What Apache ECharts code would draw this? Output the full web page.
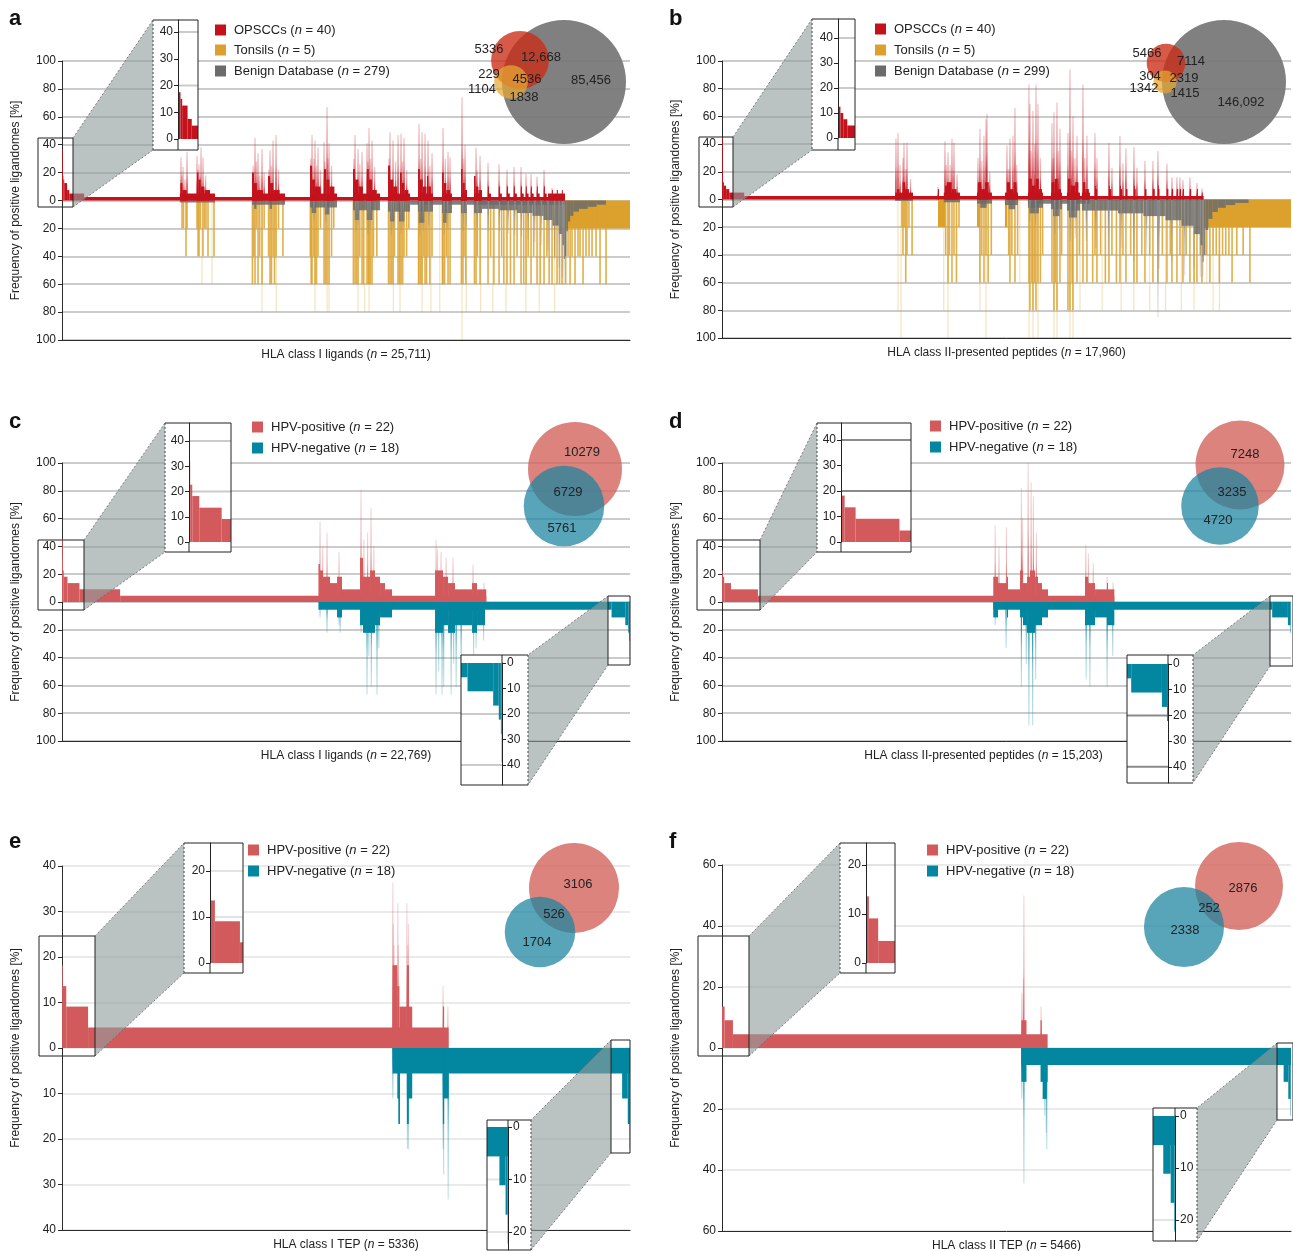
<!DOCTYPE html>
<html><head><meta charset="utf-8">
<script src="https://cdn.jsdelivr.net/npm/echarts@6/dist/echarts.min.js"></script>
<style>html,body{margin:0;padding:0;background:#fff}#c{width:1293px;height:1251px}</style>
</head><body><div id="c"></div><script>
// ================= DATA =================
// peptide counts (x axis = peptide rank)
const aN = 25711, bN = 17960, cN = 22769, dN = 15203, eN = 5336, fN = 5466;

// ---- panel a : HLA class I, OPSCC vs tonsils vs benign ----
// steps: [fromRank, toRank, frequency %]; spikes/lines: [rank, frequency %]
const aOpsccSteps = [[0,5,37],[5,20,25],[20,60,17.5],[60,100,15],[100,230,12.5],[230,330,7.5],[330,1000,5],[1000,22769,2.5],
 [5336,6926,5],[5360,5450,12.5],[5450,5650,7.5],[6111,6180,20],[6180,6280,15],[6280,6450,10],[6450,6700,7.5],
 [8601,10095,5],[8601,8690,20],[8690,8820,12.5],[8820,9100,7.5],[9326,9420,17.5],[9420,9560,12.5],[9560,9850,7.5],
 [11227,12449,5],[11227,11320,25],[11320,11450,15],[11450,11700,10],[11860,11960,22.5],[11960,12100,15],[12100,12330,10],
 [13173,14396,5],[13173,13260,22.5],[13260,13420,15],[13420,13620,10],[13800,13890,22.5],[13890,14030,15],[14030,14250,7.5],
 [14758,15754,5],[14758,14850,25],[14850,14990,15],[14990,15180,10],[15300,15380,20],[15380,15500,12.5],[15500,15680,7.5],
 [16116,16795,5],[16116,16200,22.5],[16200,16330,15],[16330,16500,10],[16520,16580,17.5],[16580,16700,10],
 [17203,17655,5],[17203,17280,20],[17280,17400,12.5],[17400,17560,7.5],
 [18063,18334,5],[18063,18130,22.5],[18130,18230,12.5],[18230,18334,7.5],
 [18651,19013,5],[18651,18720,17.5],[18720,18850,10],[18850,19013,7.5],
 [19285,19420,5],[19285,19330,10],[19783,19910,5],[19783,19830,10],[20145,20270,5],[20145,20190,10],[20462,20590,5],[20462,20500,10],
 [20779,20900,5],[20779,20820,10],[21005,21120,5],[21005,21040,10],[21231,21350,5],[21231,21270,10],[21503,21620,5],[21503,21540,10],
 [21820,21940,5],[21820,21860,10],[22000,22769,5],[22182,22220,7.5],[22409,22440,7.5],[22635,22660,7.5]];
const aOpsccSpikes = [[5387,31],[5430,18],[5478,24],[5560,15],[5659,35],[6111,32],[6150,22],[6200,26],[6250,17],[6293,38],[6383,31],[6500,18],
 [8650,25],[8737,45],[8800,28],[8873,34],[8950,18],[9054,37],[9150,20],[9360,22],[9416,36],[9480,25],[9552,43],[9688,47],[9800,22],
 [11260,30],[11318,47],[11400,30],[11453,43],[11520,25],[11589,38],[11700,22],[11900,28],[11861,42],[11997,67],[12040,30],[12087,41],[12200,25],
 [13210,30],[13264,47],[13400,37],[13480,26],[13581,35],[13840,28],[13807,41],[13898,52],[13960,30],[14034,43],[14150,24],
 [14800,30],[14848,49],[14984,43],[15100,28],[15211,47],[15347,48],[15420,28],[15482,45],[15600,22],
 [16161,55],[16230,30],[16297,49],[16433,48],[16569,43],[16650,25],[16750,34],[17248,52],[17350,30],[17474,35],[17565,31],
 [18108,74],[18180,30],[18244,40],[18742,38],[18800,22],[18923,32],
 [19285,27],[19783,26],[20145,22],[20462,24],[20779,24],[21005,19],[21231,19],[21503,17],[21820,22],[22182,9],[22409,8],[22635,7]];
const aBenignSteps = [[5336,6926,1.5],[8601,10095,3],[8700,8800,6],[9400,9500,6],
 [11227,12449,5],[11300,11500,9],[11900,12100,10],[13173,14396,7],[13250,13450,14],[13800,14050,14],
 [14758,15754,8],[14850,15050,15],[15250,15500,15],[15754,22769,3],[16116,16795,8],[16150,16400,16],
 [17203,17655,9],[17250,17400,16],[18063,18334,9],[18651,19013,9],
 [19013,19800,6],[19800,20600,7],[20600,21300,9],[21300,21800,11],[21800,22200,14],[22200,22500,18],[22500,22650,24],[22650,22730,32],[22730,22769,42],
 [22769,22830,40],[22830,22900,22],[22900,23000,15],[23000,23150,11],[23150,23400,8],[23400,23800,6],[23800,24200,4.5],[24200,24620,3]];
const aBenignSpikes = [[11400,14],[11950,16],[13300,22],[13400,18],[13850,24],[13950,20],[14900,25],[15000,20],[15350,24],[15450,18],
 [16200,25],[16350,22],[16600,18],[17300,24],[17450,20],[18150,22],[18300,20],[18800,20],[19300,22],[19800,22],[20200,24],[20500,25],
 [20800,26],[21100,28],[21400,30],[21700,32],[22000,36],[22300,42],[22500,48],[22650,55],[22720,60]];
const aTonsilBlocks = [[22769,25711,20]];
const aTonsilLines = [[5432,20],[5500,20],[5613,40],[5659,20],[6111,20],[6160,40],[6202,40],[6260,20],[6383,40],[6450,20],[6519,20],[6609,40],[6881,40],
 [8620,60],[8680,40],[8737,60],[8800,20],[8873,60],[8950,40],[9054,60],[9150,20],[9350,40],[9416,60],[9480,60],[9552,40],[9620,60],[9688,40],[9800,20],[10000,40],
 [11240,40],[11280,60],[11318,60],[11400,40],[11453,60],[11520,60],[11589,40],[11700,20],[11861,60],[11930,60],[11997,60],[12087,60],[12200,40],[12300,20],
 [13190,60],[13264,60],[13330,60],[13400,60],[13480,40],[13581,60],[13650,60],[13807,60],[13870,60],[13898,60],[13960,60],[14034,60],[14100,40],[14250,40],
 [14780,60],[14848,60],[14920,60],[14984,60],[15050,40],[15211,60],[15280,60],[15347,60],[15420,60],[15482,40],[15600,40],[15700,20],
 [16140,60],[16161,60],[16240,60],[16297,60],[16380,40],[16433,60],[16500,60],[16569,40],[16650,60],[16750,40],
 [17220,60],[17248,60],[17320,60],[17400,40],[17474,60],[17565,60],[18080,60],[18150,60],[18200,40],[18280,60],[18670,60],[18742,60],[18800,40],[18923,60],
 [19285,60],[19400,40],[19550,60],[19783,60],[19900,40],[20000,60],[20145,60],[20300,60],[20462,60],[20600,40],[20779,60],[20900,60],[21005,60],[21100,40],
 [21231,60],[21350,40],[21503,60],[21650,60],[21820,60],[21950,40],[22050,60],[22182,60],[22300,40],[22409,60],[22520,60],[22635,60],
 [22800,60],[22906,40],[23000,60],[23087,40],[23223,60],[23359,40],[23449,40],[23585,60],[23721,40],[23857,40],[23993,40],[24174,40],[24355,60],[24627,60]];
const aTonsilFaint = [[6338,60],[6790,60],[9054,80],[9700,80],[11453,80],[12000,80],[12087,80],[13400,80],[13700,80],[13898,80],[15000,80],[15300,80],
 [16300,80],[16700,80],[17100,80],[18108,100],[18300,80],[18950,80],[19500,80],[20100,80],[21000,80],[21600,80],[22300,80]];
// Venn a: OPSCC-only, OPSCC∩Benign, OPSCC∩Tonsil, all three, Benign-only, Tonsil-only, Tonsil∩Benign
const aVenn = [5336, 12668, 229, 4536, 85456, 1104, 1838];

// ---- panel b : HLA class II ----
const bOpsccSteps = [[0,3,45],[3,20,17.5],[20,60,12.5],[60,130,10],[130,230,7.5],[230,700,5],[700,15203,2.5],
 [5466,6028,5],[5520,5600,7.5],[5700,5780,12.5],[5780,5900,7.5],[6817,6850,7.5],[7000,7511,5],[7040,7100,10],[7100,7250,12.5],[7250,7400,7.5],
 [8048,8521,5],[8080,8180,12.5],[8180,8300,7.5],[8300,8420,12.5],[8931,9342,5],[8995,9090,12.5],[9090,9200,7.5],[9200,9290,12.5],
 [9657,10131,5],[9680,9780,15],[9780,9900,10],[9900,10000,15],[10000,10100,7.5],[10383,10730,5],[10400,10500,12.5],[10500,10600,15],[10600,10700,7.5],
 [10888,11298,5],[10920,11000,15],[11000,11150,10],[11150,11250,12.5],[11360,11614,5],[11393,11470,12.5],[11470,11580,7.5],
 [11772,11840,7.5],[11772,11800,10],[12214,12280,7.5],[12214,12240,10],[12561,12630,7.5],[12561,12590,10],[12750,12800,7.5],[13003,13060,7.5],[13003,13030,10],
 [13350,13400,7.5],[13602,13660,7.5],[13760,13810,7.5],[13760,13785,10],[14044,14090,7.5],[14202,14240,7.5],[14360,14400,7.5],[14454,14490,7.5],
 [14549,14580,7.5],[14770,14810,7.5],[14991,15020,7.5],[15149,15170,5]];
const bOpsccSpikes = [[5491,44],[5555,48],[5620,25],[5712,30],[5744,41],[5800,22],[5839,41],[5950,15],[6817,9],[7038,42],[7080,25],[7133,34],[7200,25],[7259,44],[7322,41],[7420,18],
 [8080,30],[8142,51],[8200,28],[8269,46],[8332,58],[8363,62],[8450,20],[8995,39],[9040,22],[9089,44],[9184,46],[9247,66],[9300,25],
 [9689,83],[9720,69],[9760,35],[9815,64],[9870,40],[9910,83],[9973,69],[10050,30],[10415,55],[10450,30],[10478,63],[10573,70],[10620,35],[10667,51],
 [10920,48],[10983,94],[11030,35],[11078,60],[11140,30],[11204,46],[11393,83],[11450,30],[11519,46],
 [11772,48],[11835,30],[12214,41],[12308,23],[12561,46],[12656,26],[12750,37],[13003,38],[13097,23],[13350,28],[13602,28],[13760,35],
 [14044,26],[14202,16],[14360,16],[14454,16],[14549,14],[14770,16],[14991,12],[15149,8]];
const bBenignSteps = [[5466,6028,1],[7000,7511,2],[8048,8521,3],[8150,8350,6],[8931,9342,4],[9050,9250,7],[9657,11614,3],[9657,10131,6],[9700,10000,10],
 [10383,10730,7],[10450,10650,12],[10888,11298,8],[10950,11200,13],[11360,11614,8],[11614,12500,8],[12500,13300,10],[13300,14000,12],[14000,14500,15],
 [14500,14900,19],[14900,15100,25],[15100,15170,33],[15170,15203,45],
 [15203,15260,40],[15260,15350,22],[15350,15480,14],[15480,15650,9],[15650,15900,6],[15900,16200,4],[16200,16620,2.5]];
const bBenignSpikes = [[9720,16],[9900,18],[10500,25],[10650,22],[11000,30],[11150,28],[11500,30],[11800,35],[12200,40],[12600,35],[13000,45],[13400,40],
 [13760,85],[13800,50],[14200,45],[14600,55],[14900,50],[15100,56],[15180,55]];
const bTonsilBlocks = [[6817,7038,20],[8048,8142,20],[8931,9010,20],[15203,17960,20]];
const bTonsilLines = [[5680,20],[5712,40],[5750,20],[5800,60],[5839,40],[5900,20],[6000,40],
 [7060,40],[7133,60],[7180,40],[7259,60],[7322,40],[7400,60],[7480,20],[8142,60],[8200,40],[8269,60],[8332,40],[8400,60],[8500,40],
 [9050,40],[9089,60],[9150,40],[9247,60],[9330,40],[9689,60],[9720,80],[9780,60],[9815,80],[9870,60],[9910,80],[9973,60],[10050,60],[10120,40],
 [10415,60],[10478,80],[10520,60],[10573,80],[10667,60],[10720,40],[10920,80],[10983,80],[11050,60],[11078,80],[11204,60],[11280,40],[11393,60],[11519,60],
 [11700,60],[11772,40],[11835,60],[11950,40],[12100,60],[12214,60],[12308,40],[12450,60],[12561,60],[12656,40],[12750,60],[12900,40],[13003,60],[13097,60],
 [13250,40],[13350,60],[13500,40],[13602,60],[13760,60],[13900,40],[14044,60],[14150,40],[14202,60],[14360,60],[14454,40],[14549,60],[14650,40],[14770,60],
 [14900,60],[14991,60],[15100,40],[15149,60],
 [15300,40],[15400,60],[15500,40],[15600,40],[15700,60],[15800,40],[15900,40],[16000,40],[16100,60],[16250,40],[16450,40],[16664,60]];
const bTonsilFaint = [[5555,80],[5650,100],[7000,80],[7133,100],[8142,80],[8332,100],[9400,60],[9689,100],[9815,100],[9973,100],[10478,100],[10573,100],
 [10983,100],[11078,100],[11300,80],[12000,80],[12600,80],[13000,80],[13500,80],[14000,80],[14500,80],[14900,80],[15300,60],[15500,80],[15700,80]];
const bVenn = [5466, 7114, 304, 2319, 146092, 1342, 1415];

// ---- panel c : HLA class I, HPV+ vs HPV- ----
const cPosSteps = [[0,8,45.5],[8,25,31.8],[25,70,22.7],[70,220,18.2],[220,700,13.6],[700,2330,9.1],[2330,17008,4.5],
 [10279,10340,27.3],[10340,10463,22.7],[10463,10744,18.2],[10744,11025,13.6],[11025,11225,18.2],[11225,11947,9.1],[11947,12067,31.8],[12067,12348,18.2],
 [12348,12548,22.7],[12548,12749,18.2],[12749,12949,13.6],[12949,13230,9.1],[14954,15274,22.7],[15274,15475,18.2],[15475,15755,13.6],[15755,16437,9.1],
 [16437,16637,13.6],[16637,17008,9.1]];
const cPosSpikes = [[10343,58],[10450,40],[10624,50],[11105,36],[11987,81],[12100,45],[12250,50],[12388,68],[12500,40],
 [14994,45],[15050,38],[15194,36],[15400,32],[15675,32],[16477,27],[16918,14]];
const cNegSteps = [[10279,22030,5.6],[11025,11225,11.1],[11947,12067,16.7],[12067,12548,22.2],[12548,12749,16.7],[12749,13230,11.1],
 [14954,15274,22.2],[15274,15475,16.7],[15475,15755,22.2],[15755,16437,16.7],[16437,16637,22.2],[16637,16958,16.7],
 [22030,22580,11.1],[22580,22700,16.7],[22700,22745,22.2],[22745,22762,27.8],[22762,22769,38.9]];
const cNegSpikes = [[10343,11.1],[10624,22.2],[11105,16.7],[11150,22.2],[11987,22.2],[12228,66.7],[12300,38.9],[12400,61.1],[12628,66.7],[12700,33.3],
 [14994,66.7],[15100,50],[15234,66.7],[15300,61.1],[15600,66.7],[15700,44.4],[15800,61.1],[16000,55.6],[16500,38.9],[16600,33.3],[16900,27.8]];
const cVenn = [10279, 6729, 5761];

// ---- panel d : HLA class II, HPV+ vs HPV- ----
const dPosSteps = [[0,10,22.7],[10,60,18.2],[60,240,13.6],[240,960,9.1],[960,10483,4.5],[7248,7375,18.2],[7375,7615,13.6],[7615,7642,18.2],[7642,7963,9.1],
 [7963,8043,22.7],[8043,8150,13.6],[8150,8230,18.2],[8230,8364,22.7],[8364,8443,18.2],[8443,8550,13.6],[8550,8711,9.1],[9699,9779,18.2],[9779,9967,13.6],
 [9967,10287,9.1],[10287,10314,13.6],[10314,10483,9.1]];
const dPosSpikes = [[7300,55],[7400,40],[7600,54],[8000,82],[8030,60],[8180,100],[8260,86],[8320,76],[8400,50],[9720,41],[9790,35],[9920,28],[10290,18],[10450,14]];
const dNegSteps = [[7248,14700,5.6],[7248,7375,11.1],[7615,7642,11.1],[7963,8043,11.1],[8043,8150,16.7],[8150,8364,22.2],[8364,8550,16.7],[8550,8711,11.1],
 [9699,9967,16.7],[9967,10287,11.1],[10287,10483,16.7],[14700,15120,11.1],[15120,15190,16.7],[15190,15203,22.2]];
const dNegSpikes = [[7300,16.7],[7590,33.3],[8000,61.1],[8130,44.4],[8200,88.9],[8300,88.9],[8380,55.6],[9730,55.6],[9830,61.1],[10290,61.1],[10440,38.9]];
const dVenn = [7248, 3235, 4720];

// ---- panel e : HLA class I TEP ----
const ePosSteps = [[0,3,18.2],[3,40,13.6],[40,245,9.1],[245,3632,4.5],[3106,3150,18.2],[3150,3170,13.6],[3170,3240,9.1],[3240,3260,18.2],[3260,3290,9.1],[3578,3590,9.1]];
const ePosSpikes = [[3108,36.4],[3112,27.3],[3120,22.7],[3155,31.8],[3160,22.7],[3240,31.8],[3248,22.7],[3255,27.3],[3580,13.6],[3625,9.1]];
const eNegSteps = [[3106,5336,5.6],[3150,3175,11.1],[3160,3175,16.7],[3240,3290,11.1],[3240,3258,16.7],[3578,3632,11.1],[3578,3590,16.7],
 [5262,5315,11.1],[5315,5333,16.7],[5333,5336,22.2]];
const eNegSpikes = [[3108,11.1],[3165,16.7],[3245,22.2],[3255,22.2],[3580,22.2],[3585,27.8],[3628,33.3]];
const eVenn = [3106, 526, 1704];

// ---- panel f : HLA class II TEP ----
const fPosSteps = [[0,25,13.6],[25,105,9.1],[105,3128,4.5],[2876,2925,9.1],[3060,3072,9.1]];
const fPosSpikes = [[2880,18.2],[2895,22.7],[2900,50],[3065,13.6]];
const fNegSteps = [[2876,5466,5.6],[2876,2925,11.1],[3060,3128,11.1],[3080,3120,16.7],[5395,5440,11.1],[5440,5462,16.7],[5462,5466,22.2]];
const fNegSpikes = [[2880,16.7],[2900,44.4],[3100,22.2],[3115,27.8],[3120,33.3]];
const fVenn = [2876, 252, 2338];

// ================= STYLE / LAYOUT =================
const FONT = 'Liberation Sans, Arial, Helvetica, sans-serif';
const RED = '#c4121c', ORANGE = '#dca12c', GRAY = '#6b6b6b', GRAY2 = '#8c8c8c', POS = '#d25a5c', NEG = '#03869f';
function rgba(hex, a) { const n = parseInt(hex.slice(1), 16); return 'rgba(' + (n >> 16 & 255) + ',' + (n >> 8 & 255) + ',' + (n & 255) + ',' + a + ')'; }

const panels = [
 { key:'a', n:aN, rect:[62,61,568,279], ymax:100, step:20, grid:'#cbcbcb', gw:2, xname:['HLA class I ligands (', ' = 25,711)'], xpad:0,
   layers:[{kind:'steps',data:aTonsilBlocks,color:ORANGE,sign:-1},{kind:'lines',data:aTonsilLines,color:ORANGE,alpha:0.85,w:1.6,sign:-1},
           {kind:'lines',data:aTonsilFaint,color:ORANGE,alpha:0.3,w:1.2,sign:-1},{kind:'steps',data:aBenignSteps,color:GRAY,alpha:0.85,sign:-1},
           {kind:'spikes',data:aBenignSpikes,color:GRAY2,w:1.4,sign:-1},{kind:'steps',data:aOpsccSteps,color:RED,sign:1},{kind:'spikes',data:aOpsccSpikes,color:RED,w:1.4,sign:1}],
   insets:[{frame:[153,20,198,150], axisX:178, zeroY:139, unit:2.675, side:'tl', xr:[0,480], box:[38,138,73,207], levels:[20,40]}] },
 { key:'b', n:bN, rect:[722,61,569,277], ymax:100, step:20, grid:'#cbcbcb', gw:2, xname:['HLA class II-presented peptides (', ' = 17,960)'], xpad:0,
   layers:[{kind:'steps',data:bTonsilBlocks,color:ORANGE,sign:-1},{kind:'lines',data:bTonsilLines,color:ORANGE,alpha:0.85,w:1.6,sign:-1},
           {kind:'lines',data:bTonsilFaint,color:ORANGE,alpha:0.3,w:1.2,sign:-1},{kind:'steps',data:bBenignSteps,color:GRAY,alpha:0.85,sign:-1},
           {kind:'spikes',data:bBenignSpikes,color:GRAY2,w:1.4,sign:-1},{kind:'steps',data:bOpsccSteps,color:RED,sign:1},{kind:'spikes',data:bOpsccSpikes,color:RED,w:1.4,sign:1}],
   insets:[{frame:[812,19,855,150], axisX:838, zeroY:138, unit:2.5, side:'tl', xr:[0,420], box:[699,137,733,207], levels:[20,40]}] },
 { key:'c', n:cN, rect:[62,463,568,278], ymax:100, step:20, grid:'#cbcbcb', gw:2, xname:['HLA class I ligands (', ' = 22,769)'], xpad:0,
   layers:[{kind:'steps',data:cNegSteps,color:NEG,sign:-1},{kind:'spikes',data:cNegSpikes,color:NEG,w:1.2,sign:-1},
           {kind:'steps',data:cPosSteps,color:POS,sign:1},{kind:'spikes',data:cPosSpikes,color:POS,w:1.2,sign:1}],
   insets:[{frame:[165,423,231,552], axisX:189, zeroY:542, unit:2.525, side:'tl', xr:[0,900], box:[38,540,84,610], levels:[20,40]},
           {frame:[461,655,528,785], axisX:502, zeroY:663, unit:2.55, side:'br', xr:[21890,22769], box:[608,596,630,665], levels:[20,40]}] },
 { key:'d', n:dN, rect:[722,463,569,278], ymax:100, step:20, grid:'#cbcbcb', gw:2, xname:['HLA class II-presented peptides (', ' = 15,203)'], xpad:46,
   layers:[{kind:'steps',data:dNegSteps,color:NEG,sign:-1},{kind:'spikes',data:dNegSpikes,color:NEG,w:1.2,sign:-1},
           {kind:'steps',data:dPosSteps,color:POS,sign:1},{kind:'spikes',data:dPosSpikes,color:POS,w:1.2,sign:1}],
   insets:[{frame:[817,423,911,552], axisX:841, zeroY:542, unit:2.55, side:'tl', xr:[0,1150], box:[697,540,760,610], levels:[20,40], lc:'#8a8a8a'},
           {frame:[1127,655,1193,783], axisX:1168, zeroY:664, unit:2.57, side:'br', xr:[14643,15203], box:[1270,596,1293,666], levels:[20,40], lc:'#8a8a8a'}] },
 { key:'e', n:eN, rect:[62,866,568,364], ymax:40, step:10, grid:'#e3e3e3', gw:1.5, xname:['HLA class I TEP (', ' = 5336)'], xpad:0,
   layers:[{kind:'steps',data:eNegSteps,color:NEG,sign:-1},{kind:'spikes',data:eNegSpikes,color:NEG,w:1.2,sign:-1},
           {kind:'steps',data:ePosSteps,color:POS,sign:1},{kind:'spikes',data:ePosSpikes,color:POS,w:1.2,sign:1}],
   insets:[{frame:[184,843,243,973], axisX:210, zeroY:963, unit:4.6, side:'tl', xr:[0,270], box:[39,936,95,1056], levels:[10,20]},
           {frame:[487,1120,531,1250], axisX:508, zeroY:1127, unit:5.25, side:'br', xr:[5155,5336], box:[611,1040,630,1153], levels:[10,20]}] },
 { key:'f', n:fN, rect:[722,865,569,366], ymax:60, step:20, grid:'#e3e3e3', gw:1.5, xname:['HLA class II TEP (', ' = 5466)'], xpad:0,
   layers:[{kind:'steps',data:fNegSteps,color:NEG,sign:-1},{kind:'spikes',data:fNegSpikes,color:NEG,w:1.2,sign:-1},
           {kind:'steps',data:fPosSteps,color:POS,sign:1},{kind:'spikes',data:fPosSpikes,color:POS,w:1.2,sign:1}],
   insets:[{frame:[840,843,895,973], axisX:866, zeroY:963, unit:4.9, side:'tl', xr:[0,250], box:[698,936,749,1056], levels:[20]},
           {frame:[1153,1108,1197,1241], axisX:1175, zeroY:1116, unit:5.2, side:'br', xr:[5333,5466], box:[1277,1043,1293,1120], levels:[20]}] }
];

const letters = [['a',9,19],['b',669,19],['c',9,422],['d',669,422],['e',9,842],['f',669,842]];
const legends = [
 {x:215, ys:[30,50,71], colors:[RED,ORANGE,GRAY], texts:[['OPSCCs (',' = 40)'],['Tonsils (',' = 5)'],['Benign Database (',' = 279)']]},
 {x:875, ys:[29,50,71], colors:[RED,ORANGE,GRAY], texts:[['OPSCCs (',' = 40)'],['Tonsils (',' = 5)'],['Benign Database (',' = 299)']]},
 {x:252, ys:[427,448], colors:[POS,NEG], texts:[['HPV-positive (',' = 22)'],['HPV-negative (',' = 18)']]},
 {x:930, ys:[426,447], colors:[POS,NEG], texts:[['HPV-positive (',' = 22)'],['HPV-negative (',' = 18)']]},
 {x:248, ys:[850,871], colors:[POS,NEG], texts:[['HPV-positive (',' = 22)'],['HPV-negative (',' = 18)']]},
 {x:927, ys:[850,871], colors:[POS,NEG], texts:[['HPV-positive (',' = 22)'],['HPV-negative (',' = 18)']]}
];
const venn3Layout = [
 {counts:aVenn, big:[564,82], rBig:62, red:[520,60], orange:[511,82], comma:true,
  labels:[[489,49],[541,57],[489,74],[527,79],[591,80],[482,89],[524,97]]},
 {counts:bVenn, big:[1224,82], rBig:62, red:[1166,63], orange:[1165,82], comma:true,
  labels:[[1147,53],[1191,61],[1150,76],[1184,78],[1241,102],[1144,88],[1185,93]]}
];
const venn2Layout = [
 {counts:cVenn, red:[575,469], rRed:47, teal:[564,506], labels:[[582,452],[568,492],[562,528]]},
 {counts:dVenn, red:[1240,465], rRed:44.5, teal:[1220,506], labels:[[1245,454],[1232,492],[1218,520]]},
 {counts:eVenn, red:[574,888], rRed:45, teal:[540,932], labels:[[578,884],[554,914],[537,942]]},
 {counts:fVenn, red:[1239,886], rRed:44, teal:[1184,927], labels:[[1243,888],[1209,908],[1185,930]]}
];

// ================= BUILD =================
const grids = [], xAxes = [], yAxes = [], series = [], graphics = [];
const clip = (r, cs) => echarts.graphic.clipRectByRect(r, {x:cs.x, y:cs.y, width:cs.width, height:cs.height});

function stepsRender(sign, color, alpha) {
  const fill = alpha ? rgba(color, alpha) : color;
  return function (params, api) {
    const cs = params.coordSys;
    const p0 = api.coord([api.value(0), 0]);
    const p1 = api.coord([api.value(1), sign * api.value(2)]);
    let x = Math.min(p0[0], p1[0]), w = Math.abs(p1[0] - p0[0]);
    if (w < 0.8) w = 0.8;
    const r = clip({x:x, y:Math.min(p0[1], p1[1]), width:w, height:Math.abs(p1[1] - p0[1])}, cs);
    if (!r) return null;
    return {type:'rect', shape:r, style:{fill:fill}};
  };
}
function spikesRender(sign, color, kind, alpha, w) {
  return function (params, api) {
    const cs = params.coordSys;
    const p0 = api.coord([api.value(0), 0]);
    const p1 = api.coord([api.value(0), sign * api.value(1)]);
    const r = clip({x:p0[0] - w / 2, y:Math.min(p0[1], p1[1]), width:w, height:Math.abs(p1[1] - p0[1])}, cs);
    if (!r) return null;
    let fill;
    if (kind === 'lines') fill = rgba(color, alpha);
    else {
      const tipTop = p1[1] < p0[1];
      fill = new echarts.graphic.LinearGradient(0, tipTop ? 0 : 1, 0, tipTop ? 1 : 0,
        [{offset:0, color:rgba(color, 0.22)}, {offset:0.45, color:rgba(color, 0.45)}, {offset:0.7, color:rgba(color, 0.85)}, {offset:1, color:rgba(color, 1)}]);
    }
    return {type:'rect', shape:r, style:{fill:fill}};
  };
}
function addLayer(gi, L, sign, z) {
  const ri = L.kind === 'steps' ? stepsRender(sign, L.color, L.alpha) : spikesRender(sign, L.color, L.kind, L.alpha, L.w || 1);
  series.push({type:'custom', xAxisIndex:gi, yAxisIndex:gi, data:L.data, z:z, silent:true, clip:false, animation:false, renderItem:ri});
}
const richName = {t:{fontSize:12, fontFamily:FONT, color:'#222'}, i:{fontSize:12, fontFamily:FONT, fontStyle:'italic', color:'#222'}};

function buildMain(P) {
  const gi = grids.length;
  grids.push({left:P.rect[0], top:P.rect[1], width:P.rect[2], height:P.rect[3], containLabel:false, outerBoundsMode:'none'});
  xAxes.push({gridIndex:gi, type:'value', min:0, max:P.n, position:'bottom', z:1,
    axisLine:{show:true, onZero:false, lineStyle:{color:'#2b2b2b', width:1}}, axisTick:{show:false}, axisLabel:{show:false}, splitLine:{show:false},
    name:'{t|' + P.xname[0] + '}{i|n}{t|' + P.xname[1] + '}', nameLocation:'middle', nameGap:9,
    nameTextStyle:{padding:[0, P.xpad, 0, 0], rich:richName}});
  yAxes.push({gridIndex:gi, type:'value', min:-P.ymax, max:P.ymax, interval:P.step,
    axisLine:{show:true, lineStyle:{color:'#2b2b2b', width:1}}, axisTick:{show:true, length:4, lineStyle:{color:'#2b2b2b'}},
    axisLabel:{formatter:v => String(Math.abs(v)), fontSize:12, fontFamily:FONT, color:'#222', margin:6},
    splitLine:{show:true, lineStyle:{color:P.grid, width:P.gw}},
    name:'Frequency of positive ligandomes [%]', nameLocation:'middle', nameGap:40,
    nameTextStyle:{fontSize:12, fontFamily:FONT, color:'#222'}});
  P.layers.forEach(L => addLayer(gi, L, L.sign, 2));
  P.insets.forEach(I => buildInset(P, I));
}

function line(x1, y1, x2, y2, dashed, z, color, w) {
  graphics.push({type:'line', shape:{x1, y1, x2, y2}, silent:true, z:z,
    style:{stroke:color || '#222', lineWidth:w || 1, lineDash:dashed ? [2, 2] : null}});
}
function buildInset(P, I) {
  const tl = I.side === 'tl';
  const [fx0, fy0, fx1, fy1] = I.frame;
  const [bx0, by0, bx1, by1] = I.box;
  // connector (grey zoom funnel)
  const pts = tl ? [[bx1, by0], [fx0, fy0], [fx0, fy1], [bx1, by1]] : [[bx0, by0], [fx1, fy0], [fx1, fy1], [bx0, by1]];
  graphics.push({type:'polygon', shape:{points:pts}, silent:true, z:4, style:{fill:'rgba(146,157,157,0.62)'}});
  line(pts[0][0], pts[0][1], pts[1][0], pts[1][1], true, 4, '#666', 0.8);
  line(pts[3][0], pts[3][1], pts[2][0], pts[2][1], true, 4, '#666', 0.8);
  // frame
  graphics.push({type:'rect', shape:{x:fx0, y:fy0, width:fx1 - fx0, height:fy1 - fy0}, silent:true, z:3, style:{fill:'#fff'}});
  line(fx0, fy0, fx1, fy0, false, 7); line(fx0, fy1, fx1, fy1, false, 7);
  if (tl) { line(fx1, fy0, fx1, fy1, false, 7); line(fx0, fy0, fx0, fy1, true, 7, '#444'); line(I.axisX, I.zeroY, I.axisX, fy1, false, 7); }
  else { line(fx0, fy0, fx0, fy1, false, 7); line(fx1, fy0, fx1, fy1, true, 7, '#444'); line(I.axisX, fy0, I.axisX, I.zeroY, false, 7); }
  // box on main plot
  graphics.push({type:'rect', shape:{x:bx0, y:by0, width:bx1 - bx0, height:by1 - by0}, silent:true, z:7, style:{fill:null, stroke:'#222', lineWidth:1}});
  // inset coordinate system
  const gx = tl ? I.axisX : fx0, gw = tl ? fx1 - I.axisX : I.axisX - fx0;
  const gy = tl ? fy0 : I.zeroY, gh = tl ? I.zeroY - fy0 : fy1 - I.zeroY;
  const gi = grids.length;
  grids.push({left:gx, top:gy, width:gw, height:gh, containLabel:false, outerBoundsMode:'none'});
  xAxes.push({gridIndex:gi, type:'value', min:I.xr[0], max:I.xr[1], show:false});
  yAxes.push({gridIndex:gi, type:'value', min:0, max:gh / I.unit, interval:10, inverse:!tl, position:tl ? 'left' : 'right', z:8,
    axisLine:{show:true, lineStyle:{color:'#222', width:1}}, axisTick:{show:true, length:4, lineStyle:{color:'#222'}},
    axisLabel:{showMaxLabel:false, fontSize:12, fontFamily:FONT, color:'#222', margin:5}, splitLine:{show:false}});
  const lc = I.lc || P.grid;
  series.push({type:'custom', xAxisIndex:gi, yAxisIndex:gi, z:5, silent:true, animation:false, data:I.levels.map(v => [v]),
    renderItem:(p, api) => { const cs = p.coordSys; const y = api.coord([I.xr[0], api.value(0)])[1];
      return {type:'line', shape:{x1:cs.x, y1:y, x2:cs.x + cs.width, y2:y}, style:{stroke:lc, lineWidth:2}}; }});
  P.layers.filter(L => tl ? L.sign > 0 : L.sign < 0).forEach(L => addLayer(gi, L, 1, 6));
}

panels.forEach(buildMain);

// panel letters
letters.forEach(([t, x, y]) => graphics.push({type:'text', x, y, silent:true, z:9,
  style:{text:t, font:'bold 22px ' + FONT, fill:'#111', verticalAlign:'middle'}}));
// legends
legends.forEach(L => L.ys.forEach((y, i) => {
  graphics.push({type:'rect', shape:{x:L.x, y:y - 5.5, width:11, height:11}, silent:true, z:9, style:{fill:L.colors[i]}});
  graphics.push({type:'text', x:L.x + 19, y:y, silent:true, z:9, style:{text:'{t|' + L.texts[i][0] + '}{i|n}{t|' + L.texts[i][1] + '}', verticalAlign:'middle',
    rich:{t:{fontSize:13, fontFamily:FONT, fill:'#222'}, i:{fontSize:13, fontFamily:FONT, fontStyle:'italic', fill:'#222'}}}});
}));
// venn diagrams (areas proportional to set sizes)
const fmt = (v, comma) => comma && v >= 10000 ? v.toLocaleString('en-US') : String(v);
venn3Layout.forEach(V => {
  const c = V.counts;
  const opscc = c[0] + c[1] + c[2] + c[3], benign = c[1] + c[3] + c[4] + c[6], tonsil = c[2] + c[3] + c[5] + c[6];
  const k = V.rBig / Math.sqrt(benign);
  graphics.push({type:'circle', shape:{cx:V.big[0], cy:V.big[1], r:V.rBig}, silent:true, z:4, style:{fill:'rgba(118,118,118,0.93)'}});
  graphics.push({type:'circle', shape:{cx:V.red[0], cy:V.red[1], r:k * Math.sqrt(opscc)}, silent:true, z:4, style:{fill:'rgba(204,44,20,0.78)'}});
  graphics.push({type:'circle', shape:{cx:V.orange[0], cy:V.orange[1], r:k * Math.sqrt(tonsil)}, silent:true, z:4, style:{fill:'rgba(232,168,48,0.72)'}});
  c.forEach((v, i) => graphics.push({type:'text', x:V.labels[i][0], y:V.labels[i][1], silent:true, z:9,
    style:{text:fmt(v, V.comma), font:'13px ' + FONT, fill:'#222', align:'center', verticalAlign:'middle'}}));
});
venn2Layout.forEach(V => {
  const c = V.counts;
  const pos = c[0] + c[1], neg = c[1] + c[2];
  const k = V.rRed / Math.sqrt(pos);
  graphics.push({type:'circle', shape:{cx:V.red[0], cy:V.red[1], r:V.rRed}, silent:true, z:4, style:{fill:'rgba(212,100,94,0.8)'}});
  graphics.push({type:'circle', shape:{cx:V.teal[0], cy:V.teal[1], r:k * Math.sqrt(neg)}, silent:true, z:4, style:{fill:'rgba(30,132,160,0.74)'}});
  c.forEach((v, i) => graphics.push({type:'text', x:V.labels[i][0], y:V.labels[i][1], silent:true, z:9,
    style:{text:String(v), font:'13px ' + FONT, fill:'#222', align:'center', verticalAlign:'middle'}}));
});

const chart = echarts.init(document.getElementById('c'), null, {renderer:'canvas', width:1293, height:1251});
chart.setOption({animation:false, backgroundColor:'#fff', textStyle:{fontFamily:FONT},
  grid:grids, xAxis:xAxes, yAxis:yAxes, series:series, graphic:{elements:graphics}});
</script></body></html>
